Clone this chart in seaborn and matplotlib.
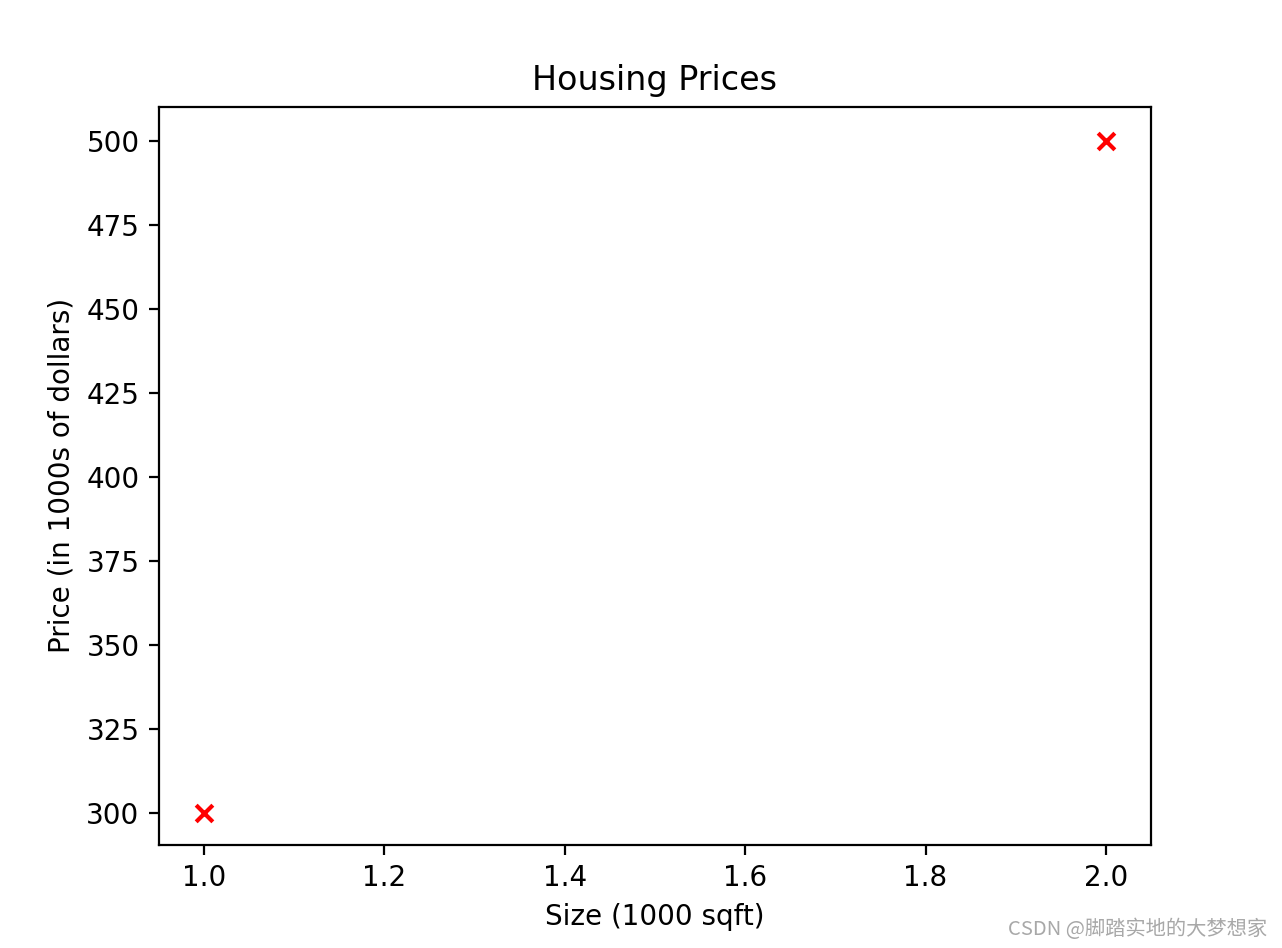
import matplotlib
matplotlib.use("Agg")
import matplotlib.pyplot as plt
import pandas as pd
import seaborn as sns

size_1000sqft = [1.0, 2.0]
price_1000s = [300.0, 500.0]

df = pd.DataFrame({"size": size_1000sqft, "price": price_1000s})

W, H, DPI = 1282, 948, 200
fig = plt.figure(figsize=(W / DPI, H / DPI), dpi=DPI)
ax = fig.add_axes([159 / W, (H - 844.5) / H, (1151 - 159) / W, (844.5 - 107) / H])

sns.scatterplot(data=df, x="size", y="price", marker="x", color="r", s=36, linewidth=1.5, ax=ax)
ax.set_xlim(0.95, 2.05)
ax.set_ylim(290.5, 510.1)
ax.set_title("Housing Prices")
ax.set_xlabel("Size (1000 sqft)")
ax.set_ylabel("Price (in 1000s of dollars)")

# watermark from the source page
fig.text(1267 / W, (H - 929) / H, "CSDN @脚踏实地的大梦想家", ha="right", va="center",
         fontsize=7.3, color="#a8a8a8", family=["Noto Sans CJK SC", "DejaVu Sans"])

fig.savefig("out.png", dpi=DPI)
